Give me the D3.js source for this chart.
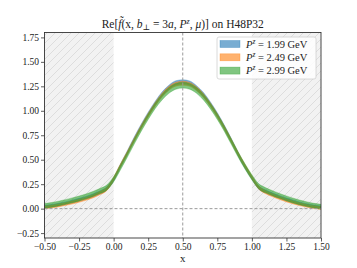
<!DOCTYPE html>
<html>
<head>
<meta charset="utf-8">
<script src="https://cdn.jsdelivr.net/npm/d3@7"></script>
<style>
  body { margin: 0; background: #fff; }
  svg, svg text { font-family: "Liberation Serif", "DejaVu Serif", "Times New Roman", serif !important; }
</style>
</head>
<body>
<svg width="357" height="268"></svg>
<script>
const svg = d3.select("svg");
const width = +svg.attr("width");
const height = +svg.attr("height");

// x grid of the reconstructed distribution
const xs = [-0.50, -0.45, -0.40, -0.35, -0.30, -0.25, -0.20, -0.15, -0.10, -0.05,
  0.00, 0.05, 0.10, 0.15, 0.20, 0.25, 0.30, 0.35, 0.40, 0.45,
  0.50, 0.55, 0.60, 0.65, 0.70, 0.75, 0.80, 0.85, 0.90, 0.95,
  1.00, 1.05, 1.10, 1.15, 1.20, 1.25, 1.30, 1.35, 1.40, 1.45, 1.50];

// central values per momentum
const meanP199 = [0.020, 0.028, 0.040, 0.055, 0.072, 0.090, 0.110, 0.135, 0.165, 0.205,
  0.300, 0.440, 0.575, 0.715, 0.845, 0.965, 1.075, 1.170, 1.240, 1.285,
  1.295, 1.283, 1.235, 1.165, 1.070, 0.960, 0.835, 0.700, 0.560, 0.430,
  0.315, 0.215, 0.175, 0.145, 0.118, 0.094, 0.072, 0.052, 0.035, 0.022, 0.012];
const meanP249 = [0.012, 0.020, 0.032, 0.046, 0.062, 0.080, 0.100, 0.125, 0.158, 0.200,
  0.305, 0.440, 0.570, 0.705, 0.835, 0.955, 1.065, 1.160, 1.230, 1.272,
  1.282, 1.270, 1.225, 1.155, 1.060, 0.950, 0.828, 0.695, 0.560, 0.435,
  0.320, 0.215, 0.168, 0.136, 0.108, 0.084, 0.062, 0.043, 0.027, 0.015, 0.006];
const meanP299 = [0.028, 0.038, 0.052, 0.068, 0.085, 0.104, 0.125, 0.150, 0.180, 0.215,
  0.300, 0.425, 0.555, 0.690, 0.820, 0.940, 1.050, 1.140, 1.208, 1.250,
  1.262, 1.250, 1.208, 1.140, 1.048, 0.940, 0.820, 0.688, 0.555, 0.432,
  0.320, 0.228, 0.188, 0.158, 0.130, 0.105, 0.082, 0.062, 0.045, 0.030, 0.020];

// half widths of the error bands
const errP199 = [0.014, 0.014, 0.014, 0.014, 0.015, 0.015, 0.015, 0.015, 0.016, 0.016,
  0.017, 0.018, 0.019, 0.020, 0.020, 0.021, 0.021, 0.022, 0.022, 0.022,
  0.022, 0.022, 0.022, 0.022, 0.021, 0.021, 0.020, 0.020, 0.019, 0.018,
  0.017, 0.016, 0.016, 0.015, 0.015, 0.015, 0.015, 0.014, 0.014, 0.014, 0.014];
const errP249 = [0.014, 0.014, 0.014, 0.014, 0.015, 0.015, 0.015, 0.015, 0.016, 0.016,
  0.017, 0.018, 0.018, 0.019, 0.019, 0.020, 0.020, 0.020, 0.020, 0.020,
  0.020, 0.020, 0.020, 0.020, 0.020, 0.020, 0.019, 0.019, 0.018, 0.018,
  0.017, 0.016, 0.016, 0.015, 0.015, 0.015, 0.015, 0.014, 0.014, 0.014, 0.014];
const errP299 = [0.024, 0.024, 0.024, 0.024, 0.025, 0.025, 0.025, 0.025, 0.026, 0.026,
  0.026, 0.027, 0.027, 0.028, 0.028, 0.029, 0.029, 0.030, 0.030, 0.030,
  0.030, 0.030, 0.030, 0.030, 0.029, 0.029, 0.028, 0.028, 0.027, 0.027,
  0.026, 0.026, 0.026, 0.025, 0.025, 0.025, 0.025, 0.024, 0.024, 0.024, 0.024];

const seriesLabels = ["1.99", "2.49", "2.99"];
const xTicks = [-0.50, -0.25, 0.00, 0.25, 0.50, 0.75, 1.00, 1.25, 1.50];
const yTicks = [-0.25, 0.00, 0.25, 0.50, 0.75, 1.00, 1.25, 1.50, 1.75];
const hatchRanges = [[-0.5, 0], [1, 1.5]];

const series = [
  { label: seriesLabels[0], mean: meanP199, err: errP199, color: "#1f77b4" },
  { label: seriesLabels[1], mean: meanP249, err: errP249, color: "#ff7f0e" },
  { label: seriesLabels[2], mean: meanP299, err: errP299, color: "#2ca02c" }
];

const serif = "'Liberation Serif', 'DejaVu Serif', serif";
const margin = { top: 32.5, right: 36, bottom: 30, left: 44.5 };
const x = d3.scaleLinear().domain([-0.5, 1.5]).range([margin.left, width - margin.right]);
const y = d3.scaleLinear().domain([-0.3, 1.8]).range([height - margin.bottom, margin.top]);

// hatch pattern
const defs = svg.append("defs");
const pat = defs.append("pattern")
  .attr("id", "hatch")
  .attr("patternUnits", "userSpaceOnUse")
  .attr("width", 8)
  .attr("height", 8);
pat.append("rect").attr("width", 8).attr("height", 8).attr("fill", "#f2f2f2");
pat.append("path")
  .attr("d", "M-2,2 L2,-2 M0,8 L8,0 M6,10 L10,6")
  .attr("stroke", "#d8d8d8")
  .attr("stroke-width", 0.8);

defs.append("clipPath").attr("id", "plotclip")
  .append("rect")
  .attr("x", margin.left).attr("y", margin.top)
  .attr("width", width - margin.left - margin.right)
  .attr("height", height - margin.top - margin.bottom);

const plot = svg.append("g").attr("clip-path", "url(#plotclip)");

plot.selectAll("rect.hatch")
  .data(hatchRanges)
  .join("rect")
  .attr("class", "hatch")
  .attr("x", d => x(d[0]))
  .attr("width", d => x(d[1]) - x(d[0]))
  .attr("y", y(1.8))
  .attr("height", y(-0.3) - y(1.8))
  .attr("fill", "url(#hatch)");

// bands
const area = d3.area()
  .x((d, i) => x(xs[i]))
  .y0(d => y(d[0]))
  .y1(d => y(d[1]))
  .curve(d3.curveMonotoneX);

plot.selectAll("path.band")
  .data(series)
  .join("path")
  .attr("class", "band")
  .attr("d", s => area(s.mean.map((m, i) => [m - s.err[i], m + s.err[i]])))
  .attr("fill", s => s.color)
  .attr("fill-opacity", 0.6)
  .attr("stroke", s => s.color)
  .attr("stroke-opacity", 0.5)
  .attr("stroke-width", 0.6);

// reference lines
plot.append("line")
  .attr("x1", x(0.5)).attr("x2", x(0.5))
  .attr("y1", y(1.8)).attr("y2", y(-0.3))
  .attr("stroke", "#9a9a9a").attr("stroke-width", 1)
  .attr("stroke-dasharray", "3,2");
plot.append("line")
  .attr("x1", x(-0.5)).attr("x2", x(1.5))
  .attr("y1", y(0)).attr("y2", y(0))
  .attr("stroke", "#9a9a9a").attr("stroke-width", 1)
  .attr("stroke-dasharray", "3,2");

// axes
const fmt = d => d3.format(".2f")(d).replace("-", "\u2212");
const xAxis = svg.append("g")
  .attr("transform", `translate(0,${height - margin.bottom})`)
  .call(d3.axisBottom(x).tickValues(xTicks).tickFormat(fmt).tickSize(3.5).tickSizeOuter(0));
const yAxis = svg.append("g")
  .attr("transform", `translate(${margin.left},0)`)
  .call(d3.axisLeft(y).tickValues(yTicks).tickFormat(fmt).tickSize(3.5).tickSizeOuter(0));
[xAxis, yAxis].forEach(a => {
  a.attr("font-family", serif);
  a.select(".domain").remove();
  a.selectAll("line").attr("stroke", "#333").attr("stroke-width", 0.8);
  a.selectAll("text").attr("fill", "#222").attr("font-size", 9.5);
});
xAxis.selectAll("text").attr("y", 5.5).attr("dy", "0.71em");
yAxis.selectAll("text").attr("x", -5.5);

// frame
svg.append("rect")
  .attr("x", margin.left).attr("y", margin.top)
  .attr("width", width - margin.left - margin.right)
  .attr("height", height - margin.top - margin.bottom)
  .attr("fill", "none").attr("stroke", "#333").attr("stroke-width", 0.9);

// x label
svg.append("text")
  .attr("x", (margin.left + width - margin.right) / 2)
  .attr("y", 262)
  .attr("text-anchor", "middle")
  .attr("font-family", serif)
  .attr("font-size", 11)
  .attr("fill", "#222")
  .text("x");

// title
const title = svg.append("text")
  .attr("x", (margin.left + width - margin.right) / 2)
  .attr("y", 27.5)
  .attr("text-anchor", "middle")
  .attr("font-family", serif)
  .attr("font-size", 11.5)
  .attr("fill", "#222");
title.append("tspan").text("Re[");
title.append("tspan").attr("font-style", "italic").text("f\u0303");
title.append("tspan").text("(x, ");
title.append("tspan").attr("font-style", "italic").text("b");
title.append("tspan").attr("font-size", 8).attr("dy", 2.5).text("\u22A5");
title.append("tspan").attr("dy", -2.5).text(" = 3");
title.append("tspan").attr("font-style", "italic").text("a");
title.append("tspan").text(", ");
title.append("tspan").attr("font-style", "italic").text("P");
title.append("tspan").attr("font-size", 8).attr("font-style", "italic").attr("dy", -4).text("z");
title.append("tspan").attr("dy", 4).text(", ");
title.append("tspan").attr("font-style", "italic").text("\u03BC");
title.append("tspan").text(")] on H48P32");

// legend
const legend = svg.append("g").attr("transform", "translate(217,37)").attr("font-family", serif);
legend.append("rect")
  .attr("width", 99).attr("height", 42).attr("rx", 2)
  .attr("fill", "#fff").attr("fill-opacity", 0.85)
  .attr("stroke", "#d0d0d0").attr("stroke-width", 0.8);
const item = legend.selectAll("g.item")
  .data(series)
  .join("g")
  .attr("class", "item")
  .attr("transform", (d, i) => `translate(3,${7 + i * 13.3})`);
item.append("rect")
  .attr("width", 20).attr("height", 7)
  .attr("y", -3.5)
  .attr("fill", d => d.color).attr("fill-opacity", 0.6)
  .attr("stroke", d => d.color).attr("stroke-opacity", 0.5).attr("stroke-width", 0.6);
const lt = item.append("text")
  .attr("x", 26)
  .attr("y", 3.5)
  .attr("font-size", 10.5)
  .attr("fill", "#222");
lt.append("tspan").attr("font-style", "italic").text("P");
lt.append("tspan").attr("font-style", "italic").attr("font-size", 7.5).attr("dy", -4).text("z");
lt.append("tspan").attr("dy", 4).text(d => " = " + d.label + " GeV");
</script>
</body>
</html>
